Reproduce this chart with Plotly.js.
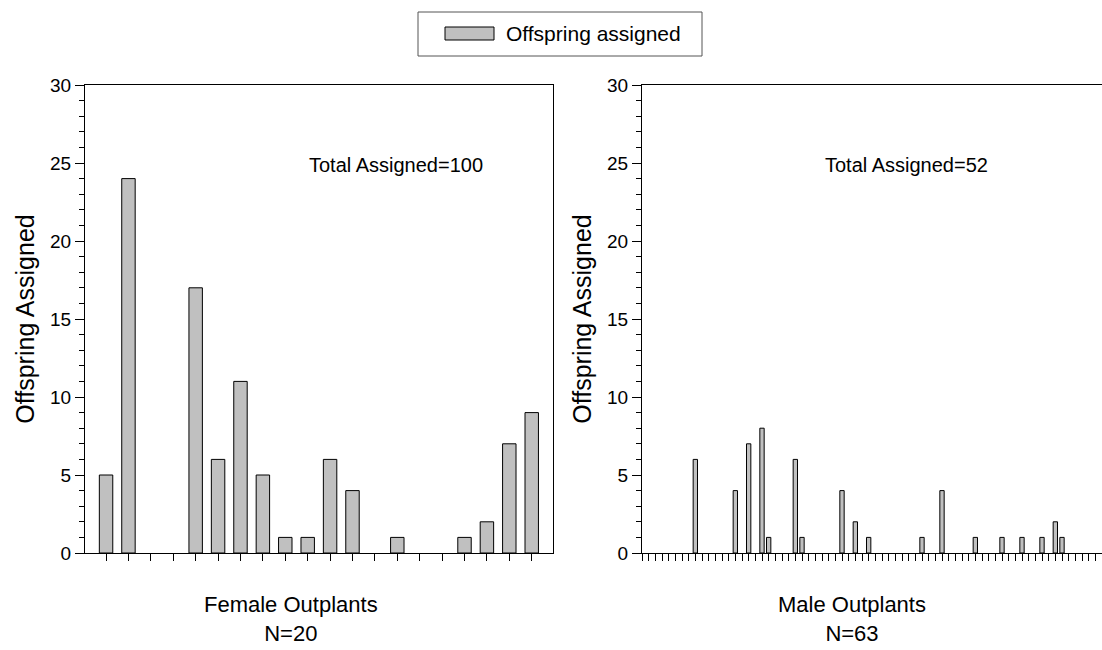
<!DOCTYPE html>
<html>
<head>
<meta charset="utf-8">
<script src="https://cdn.plot.ly/plotly-3.0.1.min.js"></script>
<style>html,body{margin:0;padding:0;overflow:hidden;background:#fff}</style>
</head>
<body>
<div id="chart" style="width:1102px;height:650px"></div>
<script>
// Female outplants (N=20): offspring assigned to each
const femaleIds = [1,2,3,4,5,6,7,8,9,10,11,12,13,14,15,16,17,18,19,20];
const femaleValues = [5,24,0,0,17,6,11,5,1,1,6,4,0,1,0,0,1,2,7,9];
// Male outplants: position on axis and offspring assigned (non-zero only)
const maleIds = [8,14,16,18,19,23,24,30,32,34,42,45,50,54,57,60,62,63];
const maleValues = [6,4,7,8,1,6,1,4,2,1,1,4,1,1,1,1,2,1];
const maleTickIds = Array.from({length:69},(_,i)=>i);
const yTicks = [0,5,10,15,20,25,30];
const seriesName = 'Offspring assigned';
const femaleLabel = 'Female Outplants<br>N=20';
const maleLabel = 'Male Outplants<br>N=63';
const femaleTotal = 'Total Assigned=100';
const maleTotal = 'Total Assigned=52';

const FONT = 'Arial, "Liberation Sans", sans-serif';
const barStyle = {color:'#c0c0c0', line:{color:'#000', width:1}};
// plot area spans 85..553 px vertically
const py = px => (553 - px) / 468;

const traces = [
  {type:'bar', x:femaleIds, y:femaleValues.map(v => v === 0 ? null : v), width:0.6, marker:barStyle, xaxis:'x', yaxis:'y', name:seriesName, showlegend:false},
  {type:'bar', x:maleIds, y:maleValues, width:0.65, marker:barStyle, xaxis:'x2', yaxis:'y2', name:seriesName, showlegend:false}
];

const yBase = {
  range:[0,30], tickvals:yTicks, ticks:'outside', ticklen:9, tickwidth:1, tickcolor:'#000',
  showline:true, linecolor:'#000', linewidth:1, showgrid:false, zeroline:false,
  tickfont:{family:FONT, size:19, color:'#000'},
  minor:{dtick:1, ticks:'outside', ticklen:5, tickwidth:1, tickcolor:'#000', showgrid:false},
  title:{text:'Offspring Assigned', font:{family:FONT, size:25, color:'#000'}, standoff:8},
  fixedrange:true
};

const layout = {
  width:1102, height:650,
  margin:{l:0, r:0, t:85, b:97},
  paper_bgcolor:'#fff', plot_bgcolor:'#fff',
  bargap:0,
  showlegend:false,
  font:{family:FONT, color:'#000'},
  xaxis:{domain:[85/1102, 553/1102], range:[0.06,20.95], tickvals:femaleIds, showticklabels:false,
    ticks:'outside', ticklen:7, tickwidth:1, tickcolor:'#000', showline:true, mirror:true,
    linecolor:'#000', linewidth:1, showgrid:false, zeroline:false, fixedrange:true},
  yaxis:Object.assign({}, yBase, {anchor:'x', mirror:true}),
  xaxis2:{domain:[642/1102, 1], range:[0,69], tickvals:maleTickIds, showticklabels:false,
    ticks:'outside', ticklen:7, tickwidth:1, tickcolor:'#000', showline:true, mirror:true,
    linecolor:'#000', linewidth:1, showgrid:false, zeroline:false, anchor:'y2', fixedrange:true},
  yaxis2:Object.assign({}, yBase, {anchor:'x2', mirror:false}),
  annotations:[
    {xref:'paper', yref:'paper', x:291/1102, y:py(619), text:femaleLabel, showarrow:false,
     xanchor:'center', yanchor:'middle', font:{family:FONT, size:22, color:'#000'}},
    {xref:'paper', yref:'paper', x:852/1102, y:py(619), text:maleLabel, showarrow:false,
     xanchor:'center', yanchor:'middle', font:{family:FONT, size:22, color:'#000'}},
    {xref:'paper', yref:'paper', x:396/1102, y:py(165), text:femaleTotal, showarrow:false,
     xanchor:'center', yanchor:'middle', font:{family:FONT, size:20, color:'#000'}},
    {xref:'paper', yref:'paper', x:906/1102, y:py(165), text:maleTotal, showarrow:false,
     xanchor:'center', yanchor:'middle', font:{family:FONT, size:20, color:'#000'}},
    {xref:'paper', yref:'paper', x:504/1102, y:py(34), text:seriesName, showarrow:false,
     xanchor:'left', yanchor:'middle', font:{family:FONT, size:21, color:'#000'}}
  ],
  shapes:[
    {type:'rect', xref:'paper', yref:'paper', x0:418/1102, x1:702/1102, y0:py(56), y1:py(12),
     line:{color:'#555', width:1}, fillcolor:'rgba(0,0,0,0)'},
    {type:'rect', xref:'paper', yref:'paper', x0:445/1102, x1:494/1102, y0:py(40), y1:py(27),
     line:{color:'#000', width:1}, fillcolor:'#c0c0c0'}
  ]
};

Plotly.newPlot('chart', traces, layout, {displayModeBar:false, staticPlot:true});
</script>
</body>
</html>
